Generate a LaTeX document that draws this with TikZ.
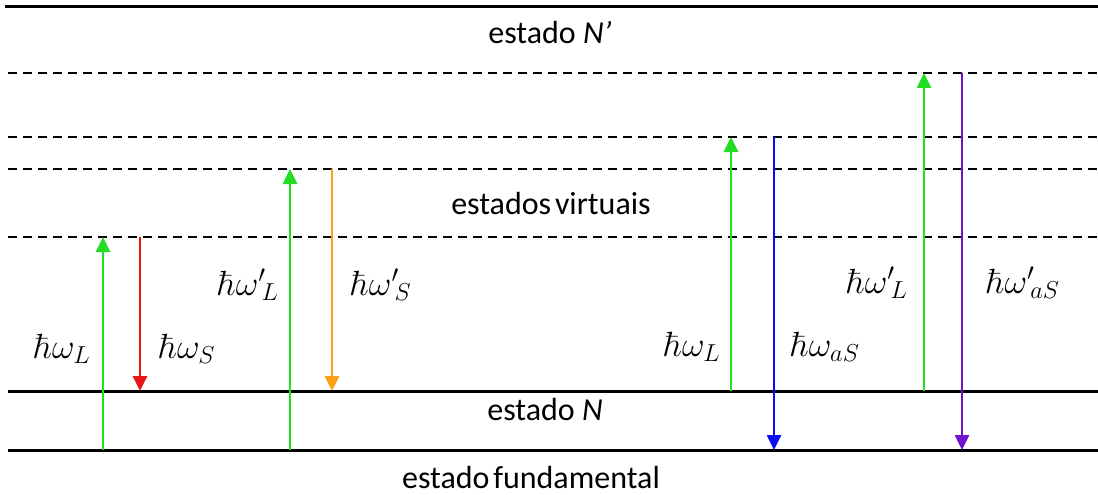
\documentclass[tikz,border=0pt]{standalone}
\usepackage[no-math]{fontspec}
\usepackage{fix-cm}
\setmainfont{Carlito}
\usetikzlibrary{arrows.meta}
\definecolor{cgreen}{RGB}{34,221,34}
\definecolor{cred}{RGB}{235,20,20}
\definecolor{corange}{RGB}{255,160,20}
\definecolor{cblue}{RGB}{10,10,245}
\definecolor{cpurple}{RGB}{110,20,200}
\tikzset{
  level/.style={line width=3pt, black},
  vlevel/.style={line width=2pt, black, dash pattern=on 9pt off 6pt},
  trans/.style={line width=2.6pt, -{Triangle[width=14pt,length=15pt]}},
  lbl/.style={font=\fontsize{32}{36}\selectfont, inner sep=0pt},
  mlbl/.style={font=\fontsize{35}{40}\selectfont, inner sep=0pt}
}
\begin{document}
\begin{tikzpicture}[x=1pt,y=-1pt]
\useasboundingbox (0,0) rectangle (1098,495);
% levels
\draw[level] (5,7) -- (1098,7);
\draw[vlevel] (8,73) -- (1098,73);
\draw[vlevel] (8,137) -- (1098,137);
\draw[vlevel] (8,169) -- (1098,169);
\draw[vlevel] (8,237) -- (1098,237);
\draw[level] (8,391) -- (1098,391);
\draw[level] (8,450) -- (1098,450);
% texts
\node[lbl] (tNp) at (550,33) {estado \textit{N’}};
\node[lbl] (tvirt) at (551,204) {estados\hspace{0.12em}virtuais};
\node[lbl] (tN) at (545,410) {estado \textit{N}};
\node[lbl] (tfund) at (531,478) {estado\hspace{0.12em}fundamental};
% coordinates
\coordinate (a1) at (103,450); \coordinate (b1) at (103,237);
\coordinate (a2) at (140,237); \coordinate (b2) at (140,391);
\coordinate (a3) at (290,450); \coordinate (b3) at (290,169);
\coordinate (a4) at (332,169); \coordinate (b4) at (332,391);
\coordinate (a5) at (731,391); \coordinate (b5) at (731,137);
\coordinate (a6) at (774,137); \coordinate (b6) at (774,450);
\coordinate (a7) at (924,391); \coordinate (b7) at (924,73);
\coordinate (a8) at (962,73); \coordinate (b8) at (962,450);
% transitions
\draw[trans, cgreen] (a1) -- (b1);
\draw[trans, cred] (a2) -- (b2);
\draw[trans, cgreen] (a3) -- (b3);
\draw[trans, corange] (a4) -- (b4);
\draw[trans, cgreen] (a5) -- (b5);
\draw[trans, cblue] (a6) -- (b6);
\draw[trans, cgreen] (a7) -- (b7);
\draw[trans, cpurple] (a8) -- (b8);
% labels
\node[mlbl] (l1) at (62,349) {$\hbar\omega_L$};
\node[mlbl] (l2) at (187,349) {$\hbar\omega_S$};
\node[mlbl] (l3) at (248,285) {$\hbar{\omega'}_{\!L}$};
\node[mlbl] (l4) at (381,285) {$\hbar{\omega'}_{\!S}$};
\node[mlbl] (l5) at (692,347) {$\hbar\omega_L$};
\node[mlbl] (l6) at (825,347) {$\hbar\omega_{aS}$};
\node[mlbl] (l7) at (877,283) {$\hbar{\omega'}_{\!L}$};
\node[mlbl] (l8) at (1023,283) {$\hbar{\omega'}_{\!aS}$};
\end{tikzpicture}
\end{document}
